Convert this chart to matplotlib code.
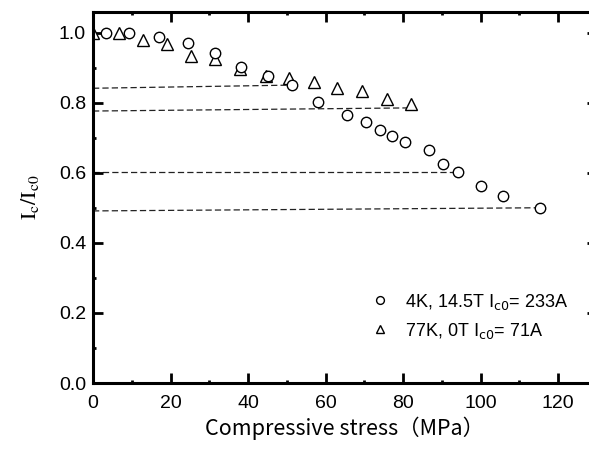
import matplotlib
matplotlib.use("Agg")
import matplotlib.pyplot as plt
from matplotlib.ticker import MultipleLocator

# 4K, 14.5T data
stress_4k = [3.4, 9.2, 17.0, 24.5, 31.5, 38.1, 45.2, 51.4, 58.1, 65.4, 70.4, 74.0,
             77.0, 80.5, 86.6, 90.4, 94.1, 100.2, 105.8, 115.3]
ic_4k = [1.00, 1.00, 0.987, 0.970, 0.941, 0.903, 0.877, 0.850, 0.803, 0.765, 0.745, 0.723,
         0.705, 0.687, 0.665, 0.624, 0.603, 0.562, 0.533, 0.500]

# 77K, 0T data
stress_77k = [0.0, 6.6, 12.8, 19.2, 25.3, 31.5, 37.9, 44.6, 50.5, 57.1, 63.0, 69.5, 75.8, 81.9]
ic_77k = [1.00, 1.00, 0.980, 0.966, 0.934, 0.924, 0.896, 0.876, 0.871, 0.858, 0.842, 0.834,
          0.810, 0.795]

# dashed guide lines (start, end) pairs
guide_x = [(0, 51.4), (0, 81.9), (0, 94.1), (0, 115.3)]
guide_y = [(0.841, 0.850), (0.776, 0.785), (0.603, 0.603), (0.491, 0.500)]

label_4k = r"4K, 14.5T $\mathsf{I_{c0}}$= 233A"
label_77k = r"77K, 0T $\mathsf{I_{c0}}$= 71A"

plt.rcParams['font.family'] = ['Liberation Sans', 'DejaVu Sans']

fig = plt.figure(figsize=(5.89, 4.53), dpi=100)
ax = fig.add_axes([93/589, (453-383)/453, (597-93)/589, (383-11.5)/453])

for gx, gy in zip(guide_x, guide_y):
    ax.plot(gx, gy, color='#222222', lw=0.9, dashes=(5, 2.5), zorder=1)

ax.plot(stress_4k, ic_4k, 'o', ms=7.5, mfc='white', mec='black', mew=1.0,
        label=label_4k, zorder=3)
ax.plot(stress_77k, ic_77k, '^', ms=8, mfc='white', mec='black', mew=1.0,
        label=label_77k, zorder=2)

ax.set_xlim(0, 130)
ax.set_ylim(0, 1.06)
ax.xaxis.set_major_locator(MultipleLocator(20))
ax.xaxis.set_minor_locator(MultipleLocator(10))
ax.yaxis.set_major_locator(MultipleLocator(0.2))
ax.yaxis.set_minor_locator(MultipleLocator(0.1))
ax.yaxis.set_major_formatter(plt.FormatStrFormatter('%.1f'))

for s in ax.spines.values():
    s.set_linewidth(2.2)
ax.tick_params(which='both', direction='in', top=True, right=True)
ax.tick_params(which='major', length=7, width=2, labelsize=14)
ax.tick_params(which='minor', length=2.5, width=2)
ax.tick_params(axis='x', which='major', pad=9)
ax.tick_params(axis='y', which='major', pad=5)

ax.set_xlabel("Compressive stress（MPa）", fontsize=15.5, labelpad=3,
              family=['Noto Sans CJK JP', 'DejaVu Sans'])
yl = ax.set_ylabel(r"$\mathrm{I_c/I_{c0}}$", fontsize=16, labelpad=13)
yl.set_math_fontfamily('stix')

leg = ax.legend(loc='upper left', bbox_to_anchor=(0.537, 0.265), frameon=False,
                fontsize=13, handlelength=1.0, handletextpad=0.9, labelspacing=0.5,
                markerscale=0.75, numpoints=1, borderaxespad=0)
for t in leg.get_texts():
    t.set_math_fontfamily('dejavusans')

fig.savefig("out.png", dpi=100)
